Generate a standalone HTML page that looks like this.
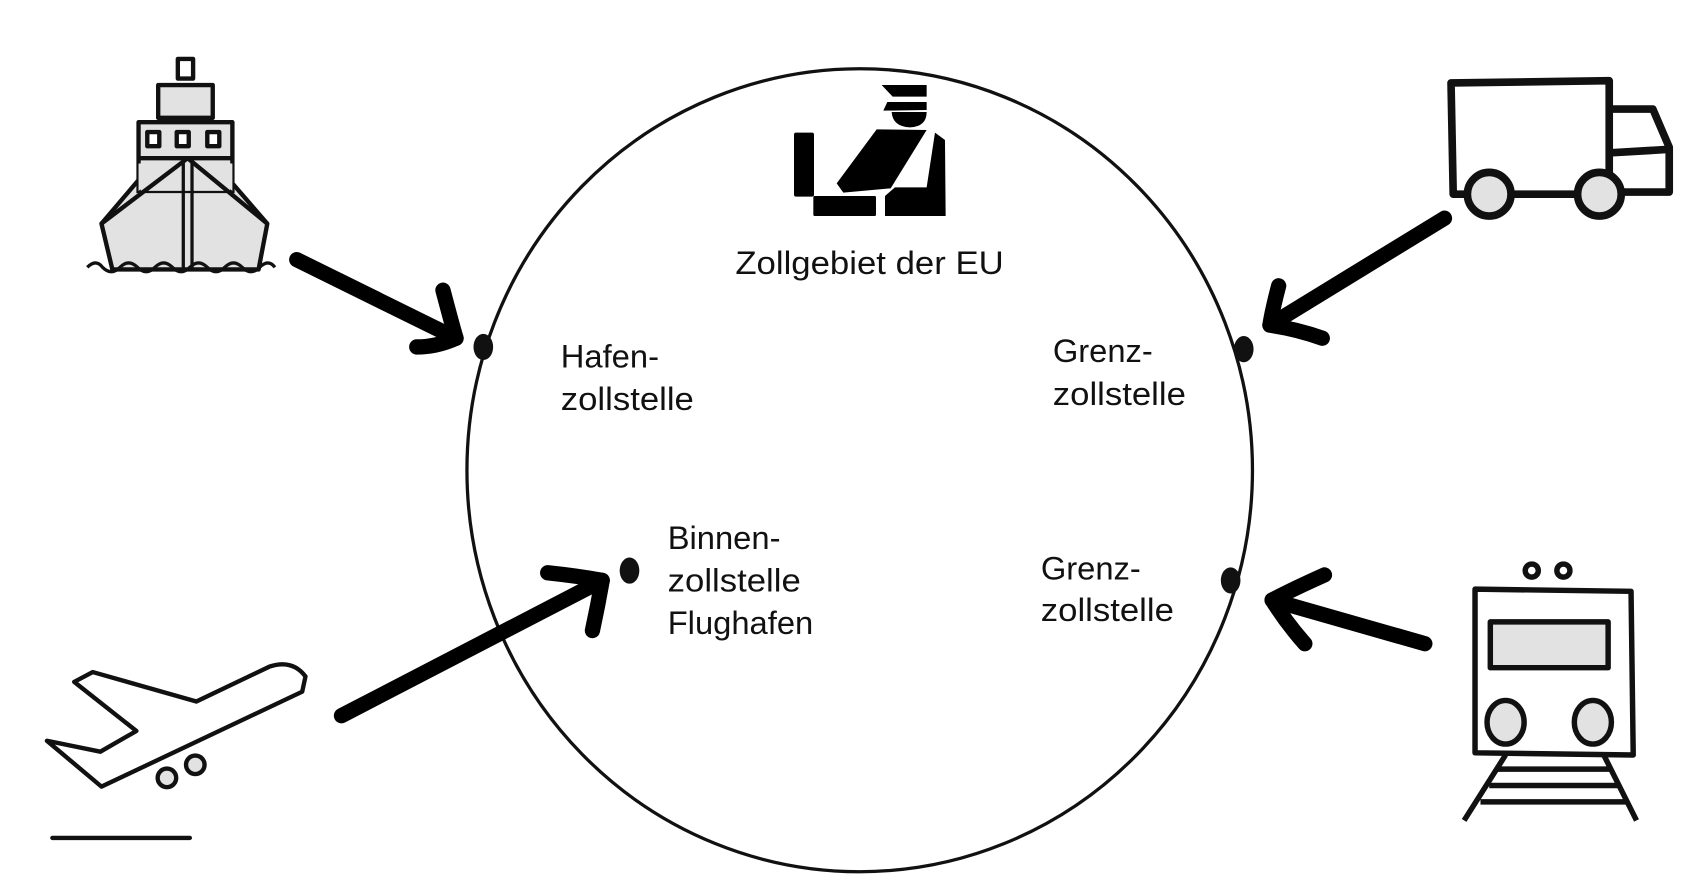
<!DOCTYPE html>
<html><head><meta charset="utf-8"><style>
html,body{margin:0;padding:0;background:#fff;}
svg{display:block;}
text{font-family:"Liberation Sans",sans-serif;fill:#111;}
</style></head><body>
<svg width="1702" height="890" viewBox="0 0 1702 890" xmlns="http://www.w3.org/2000/svg">
<g transform="scale(1.091)">
  <ellipse cx="788" cy="431" rx="360" ry="368" fill="none" stroke="#111" stroke-width="3"/>
  <ellipse cx="443" cy="318" rx="9" ry="12" fill="#111"/>
  <ellipse cx="1140" cy="320" rx="9" ry="12" fill="#111"/>
  <ellipse cx="1128" cy="532" rx="9" ry="12" fill="#111"/>
  <ellipse cx="577" cy="523" rx="9" ry="12" fill="#111"/>
  <g font-size="30">
    <text x="674" y="251" textLength="246" lengthAdjust="spacingAndGlyphs">Zollgebiet der EU</text>
    <text x="514" y="337">Hafen-</text>
    <text x="514" y="376" textLength="122" lengthAdjust="spacingAndGlyphs">zollstelle</text>
    <text x="965" y="332">Grenz-</text>
    <text x="965" y="371" textLength="122" lengthAdjust="spacingAndGlyphs">zollstelle</text>
    <text x="954" y="531">Grenz-</text>
    <text x="954" y="569" textLength="122" lengthAdjust="spacingAndGlyphs">zollstelle</text>
    <text x="612" y="503">Binnen-</text>
    <text x="612" y="542" textLength="122" lengthAdjust="spacingAndGlyphs">zollstelle</text>
    <text x="612" y="581">Flughafen</text>
  </g>
  <g fill="none" stroke="#000" stroke-width="14" stroke-linecap="round" stroke-linejoin="round">
    <path d="M272 238 L418 310"/>
    <path d="M406 266 Q415 300 418 310 Q400 318 382 318"/>
    <path d="M1324 200 L1164 298"/>
    <path d="M1172 262 Q1166 285 1164 298 Q1190 302 1212 310"/>
    <path d="M1306 590 L1166 550"/>
    <path d="M1214 527 Q1185 540 1166 550 Q1180 572 1196 590"/>
    <path d="M313 656 L552 532"/>
    <path d="M502 525 Q530 528 552 532 Q548 555 543 578"/>
  </g>
  <g stroke="#111" stroke-width="4" stroke-linejoin="round">
    <rect x="163" y="54" width="14" height="18" fill="#fff"/>
    <rect x="145" y="78" width="50" height="30" fill="#e2e2e2"/>
    <rect x="127" y="112" width="86" height="65" fill="#e2e2e2"/>
    <rect x="135" y="121" width="11" height="13" fill="#fff"/>
    <rect x="162" y="121" width="11" height="13" fill="#fff"/>
    <rect x="190" y="121" width="11" height="13" fill="#fff"/>
    <path d="M127 177 L127 165 L93 205 L103 247 L237 247 L245 205 L213 168 L213 177" fill="#e2e2e2"/>
    <path d="M127 175 L172 145 L213 175 L213 150 L172 145 L127 150 Z" fill="#e2e2e2" stroke="none"/>
    <path d="M127 145 L172 145 L213 145" fill="none"/>
    <path d="M93 205 L172 145 L245 205" fill="none"/>
    <path d="M168 145 L168 248 M176 145 L176 248" fill="none" stroke-width="3"/>
    <path d="M80 245 q8 -8 14 0 q8 8 16 0 q8 -8 16 0 q8 8 16 0 q8 -8 16 0 q8 8 16 0 q8 -8 16 0 q8 8 16 0 q8 -8 16 0 q8 8 16 0 q8 -8 14 0" fill="none" stroke-width="3"/>
  </g>
  <g stroke="#111" stroke-width="7" stroke-linejoin="round" fill="none">
    <path d="M1332 178 L1330 76 L1475 74 L1475 178 Z" fill="#fff"/>
    <path d="M1475 100 L1515 100 L1530 135 L1530 176 L1475 176"/>
    <path d="M1478 140 L1528 137"/>
    <circle cx="1365" cy="178" r="20" fill="#e2e2e2"/>
    <circle cx="1466" cy="178" r="20" fill="#e2e2e2"/>
  </g>
  <g stroke="#111" stroke-width="5" fill="none" stroke-linejoin="round">
    <path d="M1352 540 L1495 542 L1497 692 L1352 690 Z" fill="#fff"/>
    <rect x="1366" y="570" width="108" height="42" fill="#e2e2e2"/>
    <ellipse cx="1380" cy="662" rx="17" ry="20" fill="#e2e2e2"/>
    <ellipse cx="1460" cy="662" rx="17" ry="20" fill="#e2e2e2"/>
    <circle cx="1404" cy="523" r="6"/>
    <circle cx="1433" cy="523" r="6"/>
    <path d="M1380 692 L1342 752 M1470 692 L1500 752"/>
    <path d="M1372 705 L1478 705 M1365 720 L1485 720 M1357 735 L1492 735"/>
  </g>
  <g stroke="#111" stroke-width="4" fill="none" stroke-linejoin="round">
    <path d="M93 721 L43 679 L92 689 L125 670 L68 625 L85 616 L180 643 L247 611 Q268 604 280 620 L277 634 Z" fill="#fff"/>
    <circle cx="153" cy="713" r="8.5" fill="#e2e2e2"/>
    <circle cx="179" cy="701" r="8.5" fill="#e2e2e2"/>
    <path d="M48 768 L174 768" stroke-width="4" stroke-linecap="round"/>
  </g>
</g>
<g transform="translate(780,70) scale(0.3333)" fill="#000">
  <path d="M305 45 L440 45 L440 80 L338 80 Z"/>
  <path d="M322 96 L440 96 L440 120 L310 122 Z"/>
  <path d="M335 126 L440 126 Q440 170 390 172 Q338 170 335 126 Z"/>
  <rect x="42" y="188" width="60" height="192" rx="6"/>
  <path d="M290 178 L440 180 L332 355 L190 368 L170 340 Z"/>
  <path d="M465 188 L495 210 L497 438 L315 438 L315 378 L345 352 L440 352 Z"/>
  <rect x="100" y="378" width="188" height="60" rx="4"/>
</g>
</svg>
</body></html>
